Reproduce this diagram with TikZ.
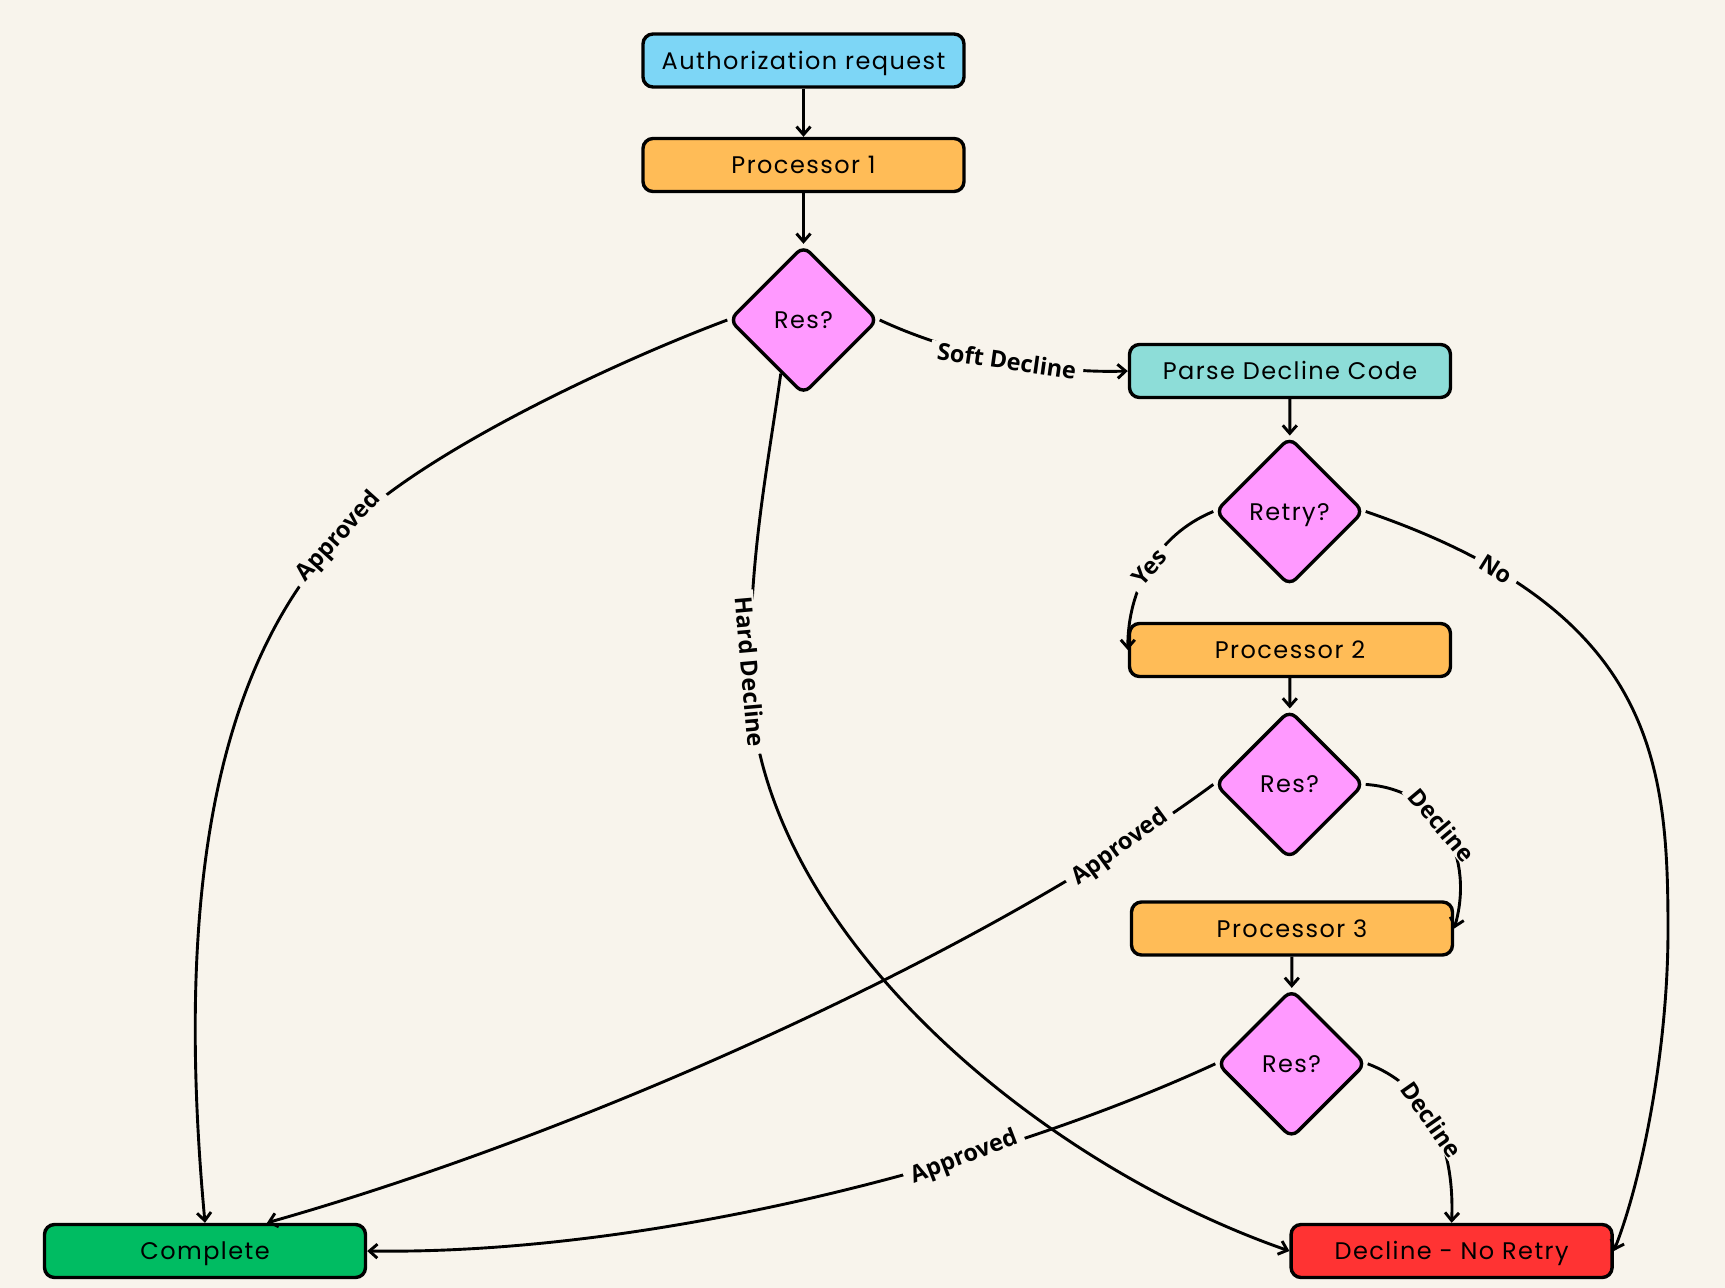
\documentclass[tikz,border=0pt]{standalone}
\usepackage{fontspec}
\setmainfont{Poppins}[LetterSpace=6]
\newfontfamily\lblfont{Open Sans}
\usetikzlibrary{shapes.geometric,arrows.meta,calc}
\definecolor{bg}{HTML}{F8F4EC}
\definecolor{authc}{HTML}{7DD6F6}
\definecolor{procc}{HTML}{FFBC57}
\definecolor{parsec}{HTML}{8DDDD8}
\definecolor{pinkc}{HTML}{FF99FF}
\definecolor{okc}{HTML}{00BC62}
\definecolor{noc}{HTML}{FF3333}
\begin{document}
\begin{tikzpicture}[x=1pt,y=-1pt,
  box/.style={draw=black,line width=3.4pt,rounded corners=10pt,minimum width=321pt,minimum height=53pt,inner sep=0pt,text height=17pt,text depth=0pt,font=\fontsize{24}{28}\selectfont},
  dia/.style={diamond,aspect=1,draw=black,line width=3.4pt,rounded corners=9pt,fill=pinkc,minimum width=149pt,minimum height=149pt,inner sep=0pt,text height=17pt,text depth=0pt,font=\fontsize{24}{28}\selectfont},
  conn/.style={line width=2.9pt,-{Straight Barb[length=8pt,width=14pt]}},
  lbl/.style={fill=bg,inner xsep=7pt,inner ysep=1pt,font=\lblfont\bfseries\fontsize{23.5}{26}\selectfont}]
\fill[bg] (0,0) rectangle (1725,1288);
\node[box,fill=authc] (auth) at (803.5,60.5) {Authorization request};
\node[box,fill=procc] (p1) at (803.5,165) {Processor 1};
\node[dia] (res1) at (803.5,320) {Res?};
\node[box,fill=parsec] (parse) at (1290,371) {Parse Decline Code};
\node[dia] (retry) at (1289.5,511.5) {Retry?};
\node[box,fill=procc] (p2) at (1290,650) {Processor 2};
\node[dia] (res2) at (1289.5,784.4) {Res?};
\node[box,fill=procc] (p3) at (1292,928.5) {Processor 3};
\node[dia] (res3) at (1291.5,1063.8) {Res?};
\node[box,fill=okc] (complete) at (205,1251) {Complete};
\node[box,fill=noc] (decline) at (1451.6,1251) {Decline - No Retry};

\draw[conn] (auth) -- (p1);
\draw[conn] (p1) -- (res1);
\draw[conn] (parse) -- (retry);
\draw[conn] (p2) -- (res2);
\draw[conn] (p3) -- (res3);

% Res1 -> Complete (Approved)
\draw[conn] (res1.west) .. controls +(-120,45) and +(70,-78) .. (339,537) node[lbl,rotate=48] {Approved}
  .. controls +(-125,133) and +(-30,-324) .. (complete.north);
% Res1 -> Decline (Hard Decline)
\draw[conn] (res1.247) .. controls +(-13,93) and +(0,-120) .. (750,672) node[lbl,rotate=-85] {Hard Decline}
  .. controls +(0,248) and +(-261.5,-91) .. (decline.west);
% Res1 -> Parse (Soft Decline)
\draw[conn] (res1.east) .. controls +(64,30) and +(-90,3) .. node[lbl,pos=0.55,rotate=-8] {Soft Decline} (parse.west);
% Retry -> P2 (Yes)
\draw[conn] (retry.west) .. controls +(-57,23.5) and +(0,-60) .. node[lbl,pos=0.5,rotate=48] {Yes} (p2.west);
% Retry -> Decline (No)
\draw[conn] (retry.east) .. controls +(288,98.5) and +(0,-170) .. node[lbl,pos=0.18,rotate=-32] {No} (1668,930)
  .. controls +(0,120) and +(28,-71) .. (decline.east);
% Res2 -> Complete (Approved)
\draw[conn] (res2.west) .. controls +(-217,160.6) and +(333,-94.4) .. node[lbl,pos=0.13,rotate=36] {Approved} ($(complete.north)+(62,0)$);
% Res2 -> P3 (Decline)
\draw[conn] (res2.east) .. controls +(78,5.6) and +(19.5,-68.5) .. node[lbl,pos=0.45,rotate=-50] {Decline} (p3.east);
% Res3 -> Complete (Approved)
\draw[conn] (res3.west) .. controls +(-219,101.2) and +(285,4) .. node[lbl,pos=0.33,rotate=21] {Approved} (complete.east);
% Res3 -> Decline (Decline)
\draw[conn] (res3.east) .. controls +(56,21.2) and +(3.4,-84.4) .. node[lbl,pos=0.5,rotate=-55] {Decline} (decline.north);
\end{tikzpicture}
\end{document}
